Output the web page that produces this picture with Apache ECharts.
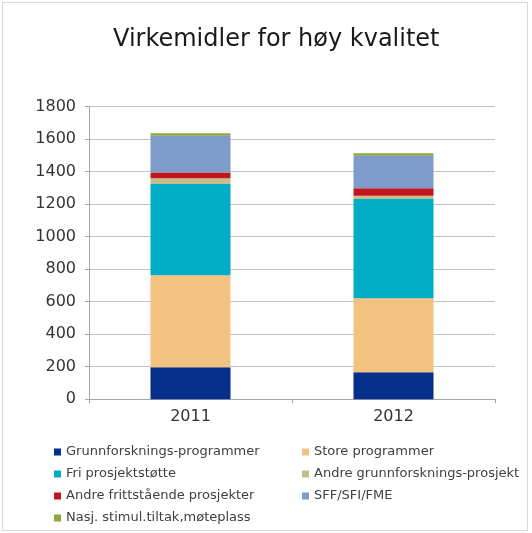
<!DOCTYPE html>
<html>
<head>
<meta charset="utf-8">
<script src="https://cdn.jsdelivr.net/npm/echarts@6/dist/echarts.min.js"></script>
<style>
html,body{margin:0;padding:0;background:#fff;}
#frame{position:absolute;left:2px;top:2px;width:524px;height:527px;border:1px solid #d9d9d9;}
#c{position:absolute;left:0;top:0;width:532px;height:533px;}
</style>
</head>
<body>
<div id="frame"></div>
<div id="c"></div>
<script>
const categories = ['2011', '2012'];
const seriesNames = [
  'Grunnforsknings-programmer',
  'Store programmer',
  'Fri prosjektstøtte',
  'Andre grunnforsknings-prosjekt',
  'Andre frittstående prosjekter',
  'SFF/SFI/FME',
  'Nasj. stimul.tiltak,møteplass'
];
const grunnforskningsProgrammer = [196, 165];
const storeProgrammer = [566, 455];
const friProsjektstotte = [561, 611];
const andreGrunnforskningsProsjekt = [35, 20];
const andreFrittstaaende = [35, 46];
const sffSfiFme = [227, 200];
const nasjStimul = [15, 15];
const yTicks = [0, 200, 400, 600, 800, 1000, 1200, 1400, 1600, 1800];

const colors = ['#062f8b', '#f4c27f', '#00acc6', '#c6bd8c', '#c3161c', '#7f9bcb', '#8fa63d'];
const values = [grunnforskningsProgrammer, storeProgrammer, friProsjektstotte,
  andreGrunnforskningsProsjekt, andreFrittstaaende, sffSfiFme, nasjStimul];

const chart = echarts.init(document.getElementById('c'), null, {renderer: 'canvas'});
const font = 'DejaVu Sans, Verdana, sans-serif';
const legendText = {fontFamily: font, fontSize: 13, color: '#404040', lineHeight: 16};
chart.setOption({
  animation: false,
  backgroundColor: 'transparent',
  title: {
    text: 'Virkemidler for høy kvalitet',
    left: 108, top: 23,
    textStyle: {fontFamily: font, fontSize: 24, fontWeight: 'normal', color: '#1a1a1a'}
  },
  legend: [
    {
      data: [seriesNames[0], seriesNames[2], seriesNames[4], seriesNames[6]],
      orient: 'vertical', left: 54, top: 444,
      itemWidth: 7, itemHeight: 7, itemGap: 6, icon: 'rect',
      textStyle: legendText, padding: 0
    },
    {
      data: [seriesNames[1], seriesNames[3], seriesNames[5]],
      orient: 'vertical', left: 302, top: 444,
      itemWidth: 7, itemHeight: 7, itemGap: 6, icon: 'rect',
      textStyle: legendText, padding: 0
    }
  ],
  grid: {left: 89, right: 37, top: 106.4, bottom: 133.8, containLabel: false},
  xAxis: {
    type: 'category', data: categories,
    axisLine: {lineStyle: {color: '#a6a6a6'}},
    axisTick: {show: true, length: 4, lineStyle: {color: '#a6a6a6'}},
    axisLabel: {fontFamily: font, fontSize: 16, color: '#333', margin: 10}
  },
  yAxis: {
    type: 'value', min: yTicks[0], max: yTicks[yTicks.length - 1], interval: 200,
    axisLine: {show: true, lineStyle: {color: '#a6a6a6'}},
    axisTick: {show: true, length: 4, lineStyle: {color: '#a6a6a6'}},
    axisLabel: {fontFamily: font, fontSize: 16, color: '#333', margin: 13,
      formatter: v => String(v)},
    splitLine: {lineStyle: {color: '#c4c4c4'}}
  },
  series: seriesNames.map((n, i) => ({
    name: n, type: 'bar', stack: 'total', data: values[i],
    barWidth: 80,
    itemStyle: {color: colors[i]}
  }))
});
</script>
</body>
</html>
